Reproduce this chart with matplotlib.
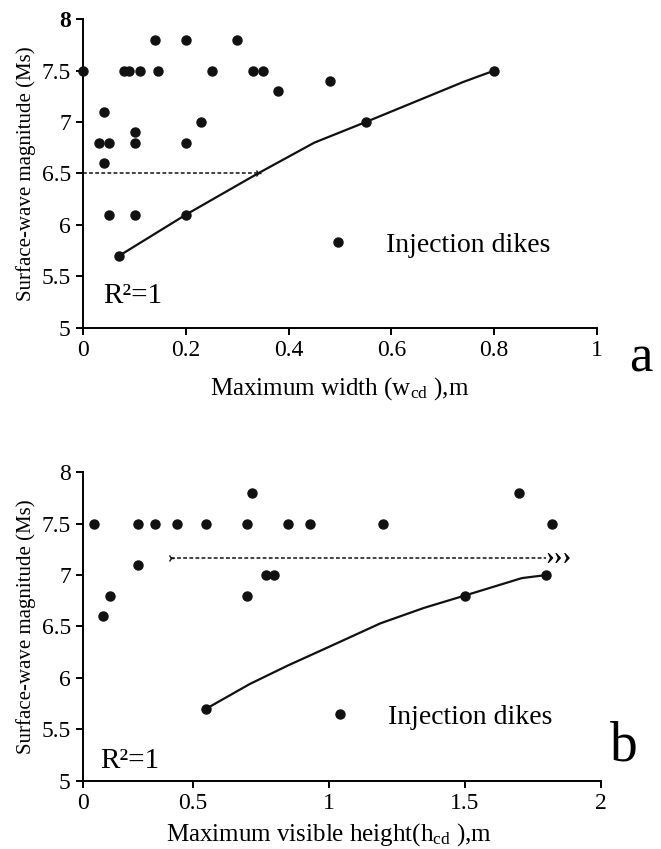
"""Injection dikes: surface-wave magnitude vs dike width and height."""

import matplotlib
matplotlib.use("Agg")
import matplotlib.pyplot as plt
from matplotlib.lines import Line2D
import numpy as np

# panel a: maximum width (m) vs Ms
width_x = [0.0, 0.03, 0.05, 0.04, 0.04, 0.05, 0.08, 0.09, 0.11, 0.10, 0.10, 0.10,
           0.14, 0.145, 0.20, 0.20, 0.20, 0.25, 0.23, 0.30, 0.33, 0.35, 0.38, 0.48,
           0.07, 0.55, 0.80]
width_ms = [7.5, 6.8, 6.8, 7.1, 6.6, 6.1, 7.5, 7.5, 7.5, 6.9, 6.8, 6.1,
            7.8, 7.5, 7.8, 6.8, 6.1, 7.5, 7.0, 7.8, 7.5, 7.5, 7.3, 7.4,
            5.7, 7.0, 7.5]
curve_a_x = [0.07, 0.20, 0.34, 0.45, 0.55, 0.74, 0.80]
curve_a_y = [5.7, 6.1, 6.5, 6.8, 7.0, 7.39, 7.5]
dash_a_x = [0.0, 0.34]
dash_a_y = [6.5, 6.5]

# panel b: maximum visible height (m) vs Ms
height_x = [0.05, 0.09, 0.12, 0.25, 0.25, 0.33, 0.43, 0.55, 0.70, 0.70, 0.72,
            0.77, 0.80, 0.85, 0.93, 1.20, 1.70, 1.82, 0.55, 1.50, 1.80]
height_ms = [7.5, 6.6, 6.8, 7.5, 7.1, 7.5, 7.5, 7.5, 7.5, 6.8, 7.8,
             7.0, 7.0, 7.5, 7.5, 7.5, 7.8, 7.5, 5.7, 6.8, 7.0]
curve_b_x = [0.55, 0.71, 0.85, 1.0, 1.19, 1.35, 1.50, 1.71, 1.80]
curve_b_y = [5.7, 5.94, 6.12, 6.3, 6.53, 6.68, 6.8, 6.97, 7.0]
dash_b_x = [0.40, 1.80]
dash_b_y = [7.17, 7.17]

x_ticks_a = [0, 0.2, 0.4, 0.6, 0.8, 1]
x_ticks_b = [0, 0.5, 1, 1.5, 2]
y_ticks = [5, 5.5, 6, 6.5, 7, 7.5, 8]

plt.rcParams['font.family'] = ['Liberation Serif', 'DejaVu Serif']
plt.rcParams['mathtext.fontset'] = 'custom'
plt.rcParams['mathtext.rm'] = 'Liberation Serif'
plt.rcParams['mathtext.it'] = 'Liberation Serif:italic'

# the b axis is squeezed between 0 and 0.5 in the original figure
k = 0.804


def fwd(x):
    x = np.asarray(x, dtype=float)
    return np.where(x <= 0.5, x * k, x - 0.5 + 0.5 * k)


def inv(y):
    y = np.asarray(y, dtype=float)
    return np.where(y <= 0.5 * k, y / k, y + 0.5 - 0.5 * k)


fig = plt.figure(figsize=(6.61, 8.49), dpi=100)
ax1 = fig.add_axes([0.126, 0.614, 0.7767, 0.3633])
ax2 = fig.add_axes([0.126, 0.0805, 0.7828, 0.3633])


def style(ax):
    for s in ['top', 'right']:
        ax.spines[s].set_visible(False)
    for s in ['left', 'bottom']:
        ax.spines[s].set_linewidth(1.4)
    ax.tick_params(direction='out', length=5, width=1.4, labelsize=17, pad=4)
    ax.set_ylim(5, 8)
    ax.set_yticks(y_ticks)
    ax.set_yticklabels(['5', '5.5', '6', '6.5', '7', '7.5', '8'])
    ax.set_ylabel('Surface-wave magnitude (Ms)', fontsize=15, labelpad=4)


# ---- panel a
style(ax1)
ax1.set_xlim(0, 1)
ax1.set_xticks(x_ticks_a)
ax1.set_xticklabels(['0', '0.2', '0.4', '0.6', '0.8', '1'])
ax1.get_yticklabels()[-1].set_fontweight('bold')
ax1.plot(curve_a_x, curve_a_y, color='#111111', lw=1.6, zorder=2)
ax1.plot(dash_a_x, dash_a_y, color='#111111', lw=1.1, ls=(0, (2.5, 1.5)), zorder=2)
ax1.plot(dash_a_x[-1:], dash_a_y[-1:], marker='4', color='#111111', ms=5, mew=1)
ax1.plot(width_x, width_ms, 'o', color='#111111', ms=6.5, clip_on=False, zorder=3)
ax1.set_xlabel(r'Maximum width (w$_{\rm cd}$ ),m', fontsize=18, labelpad=10)
ax1.text(0.038, 0.103, 'R²=1', transform=ax1.transAxes, fontsize=21,
         va='center', ha='left')
ax1.text(1.085, -0.1, 'a', transform=ax1.transAxes, fontsize=38,
         va='center', ha='center')

# ---- panel b
style(ax2)
ax2.set_xscale('function', functions=(fwd, inv))
ax2.set_xlim(0, 2)
ax2.set_xticks(x_ticks_b)
ax2.set_xticklabels(['0', '0.5', '1', '1.5', '2'])
ax2.plot(curve_b_x, curve_b_y, color='#111111', lw=1.6, zorder=2)
ax2.plot(dash_b_x, dash_b_y, color='#111111', lw=1.1, ls=(0, (2.5, 1.5)), zorder=2)
ax2.plot(dash_b_x[:1], dash_b_y[:1], marker='4', color='#111111', ms=5, mew=1)
ax2.annotate('›››', xy=(dash_b_x[-1], dash_b_y[-1]), xytext=(-1, 0),
             textcoords='offset points', fontsize=19, fontweight='bold',
             ha='left', va='center')
ax2.plot(height_x, height_ms, 'o', color='#111111', ms=6.5, clip_on=False, zorder=3)
ax2.set_xlabel(r'Maximum visible height(h$_{\rm cd}$ ),m', fontsize=18)
ax2.xaxis.set_label_coords(0.475, -0.13)
ax2.text(0.033, 0.065, 'R²=1', transform=ax2.transAxes, fontsize=21,
         va='center', ha='left')
ax2.text(1.045, 0.11, 'b', transform=ax2.transAxes, fontsize=40,
         va='center', ha='center')

# legends
h = Line2D([], [], marker='o', ls='none', color='#111111', ms=6.5)
for ax, anchor in [(ax1, (0.47, 0.267)), (ax2, (0.47, 0.207))]:
    ax.legend([h], ['Injection dikes'], loc='center left', bbox_to_anchor=anchor,
              frameon=False, fontsize=20, handlelength=1.0, handletextpad=1.2,
              borderpad=0, borderaxespad=0)

fig.savefig('out.png', dpi=100)
